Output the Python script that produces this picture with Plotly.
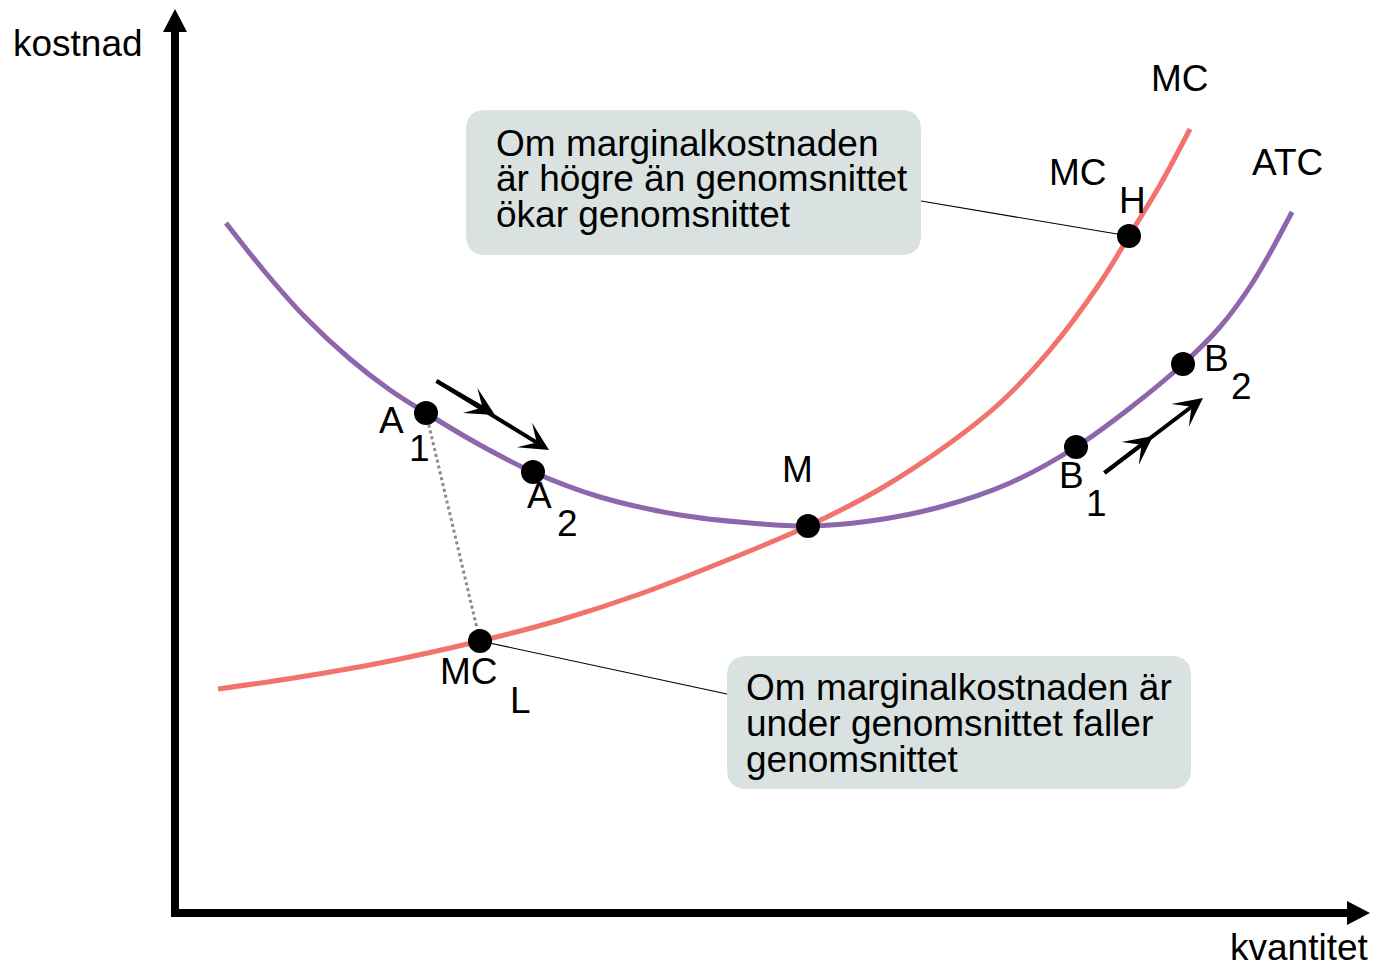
import plotly.graph_objects as go

# ---- data (quantity, cost) ----
atc_q = [5.1, 9.0, 13.0, 17.5, 21.5, 25.1, 30.5, 35.8, 42.5, 50.5, 57.5, 63.3, 69.5, 76.5, 83.5, 90.1, 95.5, 100.8, 104.5, 107.8, 111.7]
atc_c = [69.0, 64.1, 59.6, 55.4, 52.3, 50.0, 46.8, 44.1, 41.6, 39.8, 39.0, 38.7, 39.2, 40.6, 43.0, 46.6, 50.5, 54.9, 58.6, 63.1, 70.1]

mc_q = [4.3, 12.5, 20.5, 30.5, 38.5, 46.5, 54.5, 63.3, 70.5, 77.5, 82.5, 87.5, 92.5, 95.4, 98.5, 101.5]
mc_c = [22.4, 23.6, 25.0, 27.2, 29.3, 31.9, 35.0, 38.7, 42.4, 47.0, 51.0, 56.3, 63.0, 67.7, 72.8, 78.4]

pt_names = ["A1", "A2", "M", "B1", "B2", "MCH", "MCL"]
pt_q = [25.1, 35.8, 63.3, 90.1, 100.8, 95.4, 30.5]
pt_c = [50.0, 44.1, 38.7, 46.6, 54.9, 67.7, 27.2]

# small direction arrows: tail, middle, end
arrowA_q = [26.0, 32.0, 37.4]
arrowA_c = [53.3, 49.8, 46.3]
arrowB_q = [92.8, 97.8, 102.8]
arrowB_c = [43.9, 47.7, 51.5]

box_hi = dict(q0=29.1, q1=74.6, c0=65.8, c1=80.3)
box_lo = dict(q0=55.2, q1=101.6, c0=12.4, c1=25.7)
box_hi_lines = ["Om marginalkostnaden", "är högre än genomsnittet", "ökar genomsnittet"]
box_lo_lines = ["Om marginalkostnaden är", "under genomsnittet faller", "genomsnittet"]

# label text, position (q, c)
labels = [
    ("MC", 100.5, 83.5), ("ATC", 111.2, 75.1),
    ("MC", 90.3, 74.1), ("H", 95.7, 71.3),
    ("A", 21.6, 49.3), ("1", 24.4, 46.5),
    ("A", 36.4, 41.8), ("2", 39.2, 39.0),
    ("M", 62.2, 44.4),
    ("B", 89.6, 43.8), ("1", 92.1, 41.0),
    ("B", 104.1, 55.5), ("2", 106.6, 52.7),
    ("MC", 29.4, 24.2), ("L", 34.5, 21.3),
]

FONT = "Liberation Sans, Arial, sans-serif"
PURPLE = "#8c67ad"
RED = "#f2736c"
BOXFILL = "#d9e2e1"

fig = go.Figure()

def rounded_box(b, r=2.0):
    q0, q1, c0, c1 = b["q0"], b["q1"], b["c0"], b["c1"]
    return (f"M{q0+r},{c0} L{q1-r},{c0} Q{q1},{c0} {q1},{c0+r} L{q1},{c1-r} Q{q1},{c1} {q1-r},{c1} "
            f"L{q0+r},{c1} Q{q0},{c1} {q0},{c1-r} L{q0},{c0+r} Q{q0},{c0} {q0+r},{c0} Z")

shapes = [
    dict(type="path", path=rounded_box(box_hi), fillcolor=BOXFILL, line=dict(width=0), layer="below"),
    dict(type="path", path=rounded_box(box_lo), fillcolor=BOXFILL, line=dict(width=0), layer="below"),
    # axes
    dict(type="line", x0=0, y0=-0.4, x1=0, y1=88.3, line=dict(color="black", width=8)),
    dict(type="path", path="M0,90.4 L-1.2,88.1 L1.2,88.1 Z", fillcolor="black", line=dict(width=0)),
    dict(type="line", x0=-0.4, y0=0, x1=117.4, y1=0, line=dict(color="black", width=8)),
    dict(type="path", path="M119.5,0 L117.2,1.2 L117.2,-1.2 Z", fillcolor="black", line=dict(width=0)),
]

# leader lines
fig.add_trace(go.Scatter(x=[box_hi["q1"], pt_q[5]], y=[71.2, pt_c[5]], mode="lines",
                         line=dict(color="black", width=1.2), hoverinfo="skip"))
fig.add_trace(go.Scatter(x=[pt_q[6], box_lo["q0"]], y=[pt_c[6], 21.9], mode="lines",
                         line=dict(color="black", width=1.2), hoverinfo="skip"))

fig.add_trace(go.Scatter(x=atc_q, y=atc_c, mode="lines", line=dict(color=PURPLE, width=5, shape="spline"), name="ATC"))
fig.add_trace(go.Scatter(x=mc_q, y=mc_c, mode="lines", line=dict(color=RED, width=5, shape="spline"), name="MC"))

# dotted connector A1 -> MC_L
fig.add_trace(go.Scatter(x=[pt_q[0], pt_q[6]], y=[pt_c[0], pt_c[6]], mode="lines",
                         line=dict(color="#8a8a8a", width=3, dash="dot"), hoverinfo="skip"))

fig.add_trace(go.Scatter(x=pt_q, y=pt_c, mode="markers", marker=dict(color="black", size=24),
                         text=pt_names, hoverinfo="text"))

ann = []
for t, q, c in labels:
    ann.append(dict(x=q, y=c, text=t, showarrow=False, xanchor="center", yanchor="middle",
                    font=dict(family=FONT, size=37, color="black")))
ann.append(dict(x=-16.4, y=87.0, text="kostnad", showarrow=False, xanchor="left", yanchor="middle",
                font=dict(family=FONT, size=37, color="black")))
ann.append(dict(x=119.6, y=-3.4, text="kvantitet", showarrow=False, xanchor="right", yanchor="middle",
                font=dict(family=FONT, size=37, color="black")))
for i, line in enumerate(box_hi_lines):
    ann.append(dict(x=31.9, y=77.0 - 3.55 * i, text=line, showarrow=False, xanchor="left", yanchor="middle",
                    font=dict(family=FONT, size=37, color="black")))
for i, line in enumerate(box_lo_lines):
    ann.append(dict(x=56.9, y=22.6 - 3.6 * i, text=line, showarrow=False, xanchor="left", yanchor="middle",
                    font=dict(family=FONT, size=37, color="black")))

# direction arrows: one continuous shaft from tail to end, barbs at middle and end
for aq, ac in ((arrowA_q, arrowA_c), (arrowB_q, arrowB_c)):
    for i in (1, 2):
        ann.append(dict(x=aq[i], y=ac[i], ax=aq[0], ay=ac[0], axref="x", ayref="y",
                        xref="x", yref="y", text="", showarrow=True, arrowhead=3,
                        arrowwidth=4, arrowsize=1.2, arrowcolor="black", standoff=0))

fig.update_layout(
    width=1380, height=966, margin=dict(l=0, r=0, t=0, b=0),
    paper_bgcolor="white", plot_bgcolor="white", showlegend=False,
    xaxis=dict(range=[-17.5, 120.5], visible=False, fixedrange=True),
    yaxis=dict(range=[-5.3, 91.3], visible=False, fixedrange=True),
    shapes=shapes, annotations=ann,
)

fig.write_html("out.html", config={"displayModeBar": False},
               post_script="document.body.style.margin='0';document.body.style.overflow='hidden';")
